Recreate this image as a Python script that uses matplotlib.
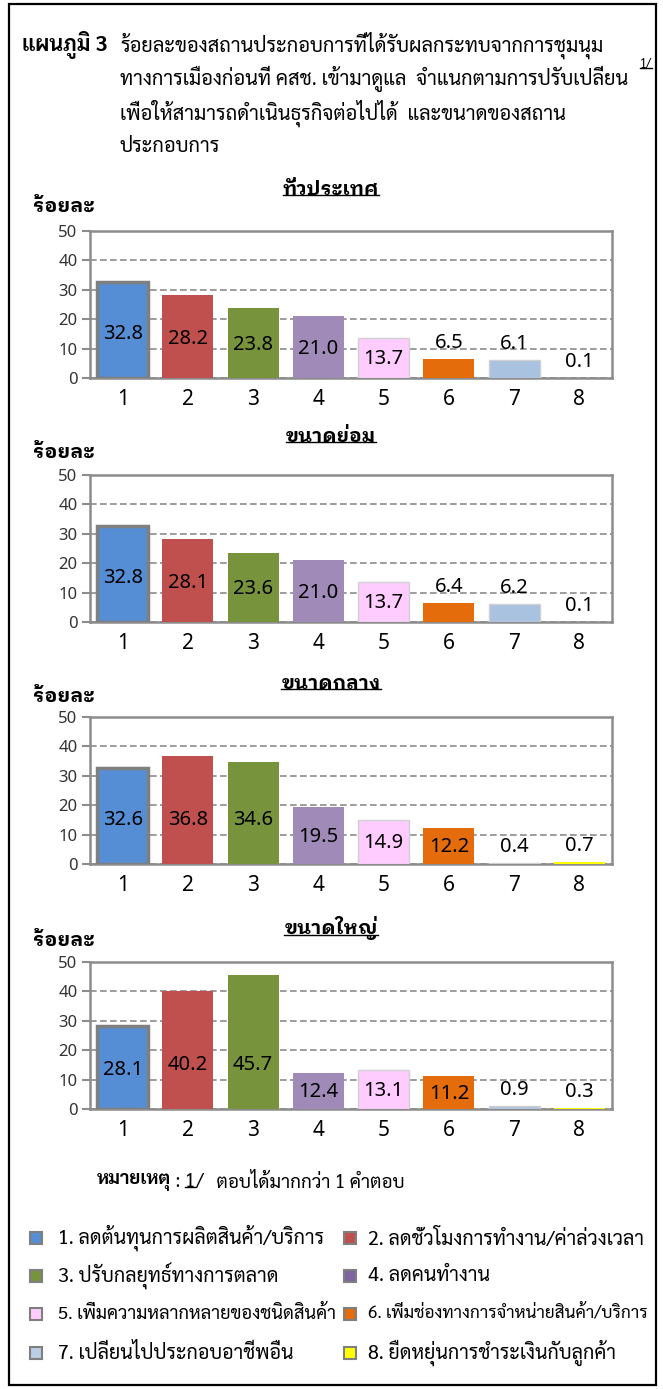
import matplotlib
matplotlib.use("Agg")
import matplotlib.pyplot as plt
from matplotlib.patches import Rectangle
from matplotlib.lines import Line2D

# ---- data ----
categories = ["1", "2", "3", "4", "5", "6", "7", "8"]
nationwide = [32.8, 28.2, 23.8, 21.0, 13.7, 6.5, 6.1, 0.1]
small_size = [32.8, 28.1, 23.6, 21.0, 13.7, 6.4, 6.2, 0.1]
medium_size = [32.6, 36.8, 34.6, 19.5, 14.9, 12.2, 0.4, 0.7]
large_size = [28.1, 40.2, 45.7, 12.4, 13.1, 11.2, 0.9, 0.3]
chart_titles = ["ทั่วประเทศ", "ขนาดย่อม", "ขนาดกลาง", "ขนาดใหญ่"]
y_ticks = [0, 10, 20, 30, 40, 50]

legend_labels = [
    "1. ลดต้นทุนการผลิตสินค้า/บริการ",
    "2. ลดชั่วโมงการทำงาน/ค่าล่วงเวลา",
    "3. ปรับกลยุทธ์ทางการตลาด",
    "4. ลดคนทำงาน",
    "5. เพิ่มความหลากหลายของชนิดสินค้า",
    "6. เพิ่มช่องทางการจำหน่ายสินค้า/บริการ",
    "7. เปลี่ยนไปประกอบอาชีพอื่น",
    "8. ยืดหยุ่นการชำระเงินกับลูกค้า",
]
title_head = "แผนภูมิ 3"
title_lines = [
    "ร้อยละของสถานประกอบการที่ได้รับผลกระทบจากการชุมนุม",
    "ทางการเมืองก่อนที่ คสช. เข้ามาดูแล  จำแนกตามการปรับเปลี่ยน",
    "เพื่อให้สามารถดำเนินธุรกิจต่อไปได้  และขนาดของสถาน",
    "ประกอบการ",
]

bar_colors = ["#558ED5", "#C0504D", "#77933C", "#A08AB8",
              "#FFCCFF", "#E46C0A", "#A9C2E0", "#FFFF00"]
legend_colors = ["#558ED5", "#C0504D", "#77933C", "#8064A2",
                 "#FFCCFF", "#E46C0A", "#B9CDE5", "#FFFF00"]

THAI = ["Sarabun", "DejaVu Sans"]
LOOP = ["IBM Plex Sans Thai Looped", "DejaVu Sans"]
NUM = ["Noto Sans", "DejaVu Sans"]

W, H = 663, 1389
GRAY = "#8c8c8c"


def fx(x):
    return x / W


def fy(y):
    return 1 - y / H


def label_y(v):
    # data labels sit inside the taller bars, above the short ones
    if v >= 10:
        return min(v * 0.47, 15)
    return v + 5.5


fig = plt.figure(figsize=(W / 100, H / 100), dpi=100)
r = fig.canvas.get_renderer()

# outer frame
fig.patches.append(Rectangle((fx(9), fy(1385)), fx(656) - fx(9), fy(4) - fy(1385),
                             transform=fig.transFigure, fill=False,
                             edgecolor="black", lw=1.6))

# title block, one size for all lines so the widest one still fits
fig.text(fx(22), fy(45), title_head, family=THAI, fontsize=15.5,
         fontweight="bold", va="center", ha="left")
title_texts = [fig.text(fx(120), fy(45 + i * 34), line, family=THAI,
                        fontsize=15.5, va="center", ha="left")
               for i, line in enumerate(title_lines)]
fs = 15.5
while max(t.get_window_extent(r).x1 for t in title_texts) > 630 and fs > 12:
    fs -= 0.1
    for t in title_texts:
        t.set_fontsize(fs)
sup = fig.text(fx(640), fy(64), "1/", family=THAI, fontsize=9,
               va="center", ha="left")

series = [nationwide, small_size, medium_size, large_size]
tops = [231, 475, 717, 962]
bottoms = [378, 622, 864, 1109]
title_ys = [190, 437, 684, 928]
unit_ys = [207, 452, 697, 940]

underline_texts = []
xs = list(range(len(categories)))
for k, vals in enumerate(series):
    top, bot = tops[k], bottoms[k]
    ax = fig.add_axes([fx(90), fy(bot), (612 - 90) / W, (bot - top) / H])
    bars = ax.bar(xs, vals, width=0.78, color=bar_colors, zorder=3)
    for j, b in enumerate(bars):
        if j == 0:
            b.set_edgecolor("#7f7f7f")
            b.set_linewidth(2.5)
        elif j in (4, 6):
            b.set_edgecolor("#d0d0d0")
            b.set_linewidth(1)
    for j, v in enumerate(vals):
        ax.text(xs[j], label_y(v), f"{v:.1f}", ha="center", va="center",
                fontsize=14.5, family=NUM, color="black", zorder=5)
    ax.set_xlim(-0.5, len(categories) - 0.5)
    ax.set_ylim(0, 50)
    ax.set_yticks(y_ticks)
    ax.set_xticks(xs)
    ax.set_xticklabels(categories, family=NUM, fontsize=15)
    ax.set_yticklabels([str(t) for t in y_ticks], family=NUM, fontsize=12,
                       color="#333333")
    ax.tick_params(axis="y", length=6, width=1.5, color=GRAY, pad=3)
    ax.tick_params(axis="x", length=0, pad=8)
    ax.set_axisbelow(True)
    ax.yaxis.grid(True, linestyle=(0, (4, 2)), color=GRAY, lw=1.2, zorder=0)
    for s in ax.spines.values():
        s.set_color(GRAY)
        s.set_linewidth(1.8)

    t = fig.text(fx(331), fy(title_ys[k]), chart_titles[k], family=LOOP,
                 fontsize=14, fontweight="bold", ha="center", va="center")
    underline_texts.append(t)
    fig.text(fx(33), fy(unit_ys[k]), "ร้อยละ", family=LOOP, fontsize=14.5,
             fontweight="bold", ha="left", va="center")

# note line
note_parts = [("หมายเหตุ", "bold", False), (" : ", "normal", False),
              ("1", "normal", True), ("/", "normal", False),
              ("   ตอบได้มากกว่า 1 คำตอบ", "normal", False)]
x = 97
for txt, wgt, ul in note_parts:
    t = fig.text(fx(x), fy(1182), txt, family=THAI, fontsize=13.5,
                 fontweight=wgt, ha="left", va="center")
    bb = t.get_window_extent(r)
    if ul:
        underline_texts.append(t)
    x += bb.width

# underlines (chart titles, footnote marks)
underline_texts.append(sup)
for t in underline_texts:
    bb = t.get_window_extent(r)
    yb = bb.y0 + bb.height * 0.22
    fig.add_artist(Line2D([bb.x0 / W, bb.x1 / W], [yb / H, yb / H],
                          transform=fig.transFigure, color="black", lw=1))

# legend
row_ys = [1238, 1276, 1314, 1353]
for i, lab in enumerate(legend_labels):
    col = i % 2
    row = i // 2
    sx = 30 if col == 0 else 344
    tx = 58 if col == 0 else 368
    yc = row_ys[row]
    fig.patches.append(Rectangle((fx(sx), fy(yc + 6)), 12 / W, 12 / H,
                                 transform=fig.transFigure,
                                 facecolor=legend_colors[i],
                                 edgecolor="#7f7f7f", lw=1.5))
    t = fig.text(fx(tx), fy(yc), lab, family=THAI, fontsize=14.2,
                 ha="left", va="center")
    fs = 14.2
    limit = 340 if col == 0 else 648
    while t.get_window_extent(r).x1 > limit and fs > 10:
        fs -= 0.2
        t.set_fontsize(fs)

fig.savefig("out.png", dpi=100)
